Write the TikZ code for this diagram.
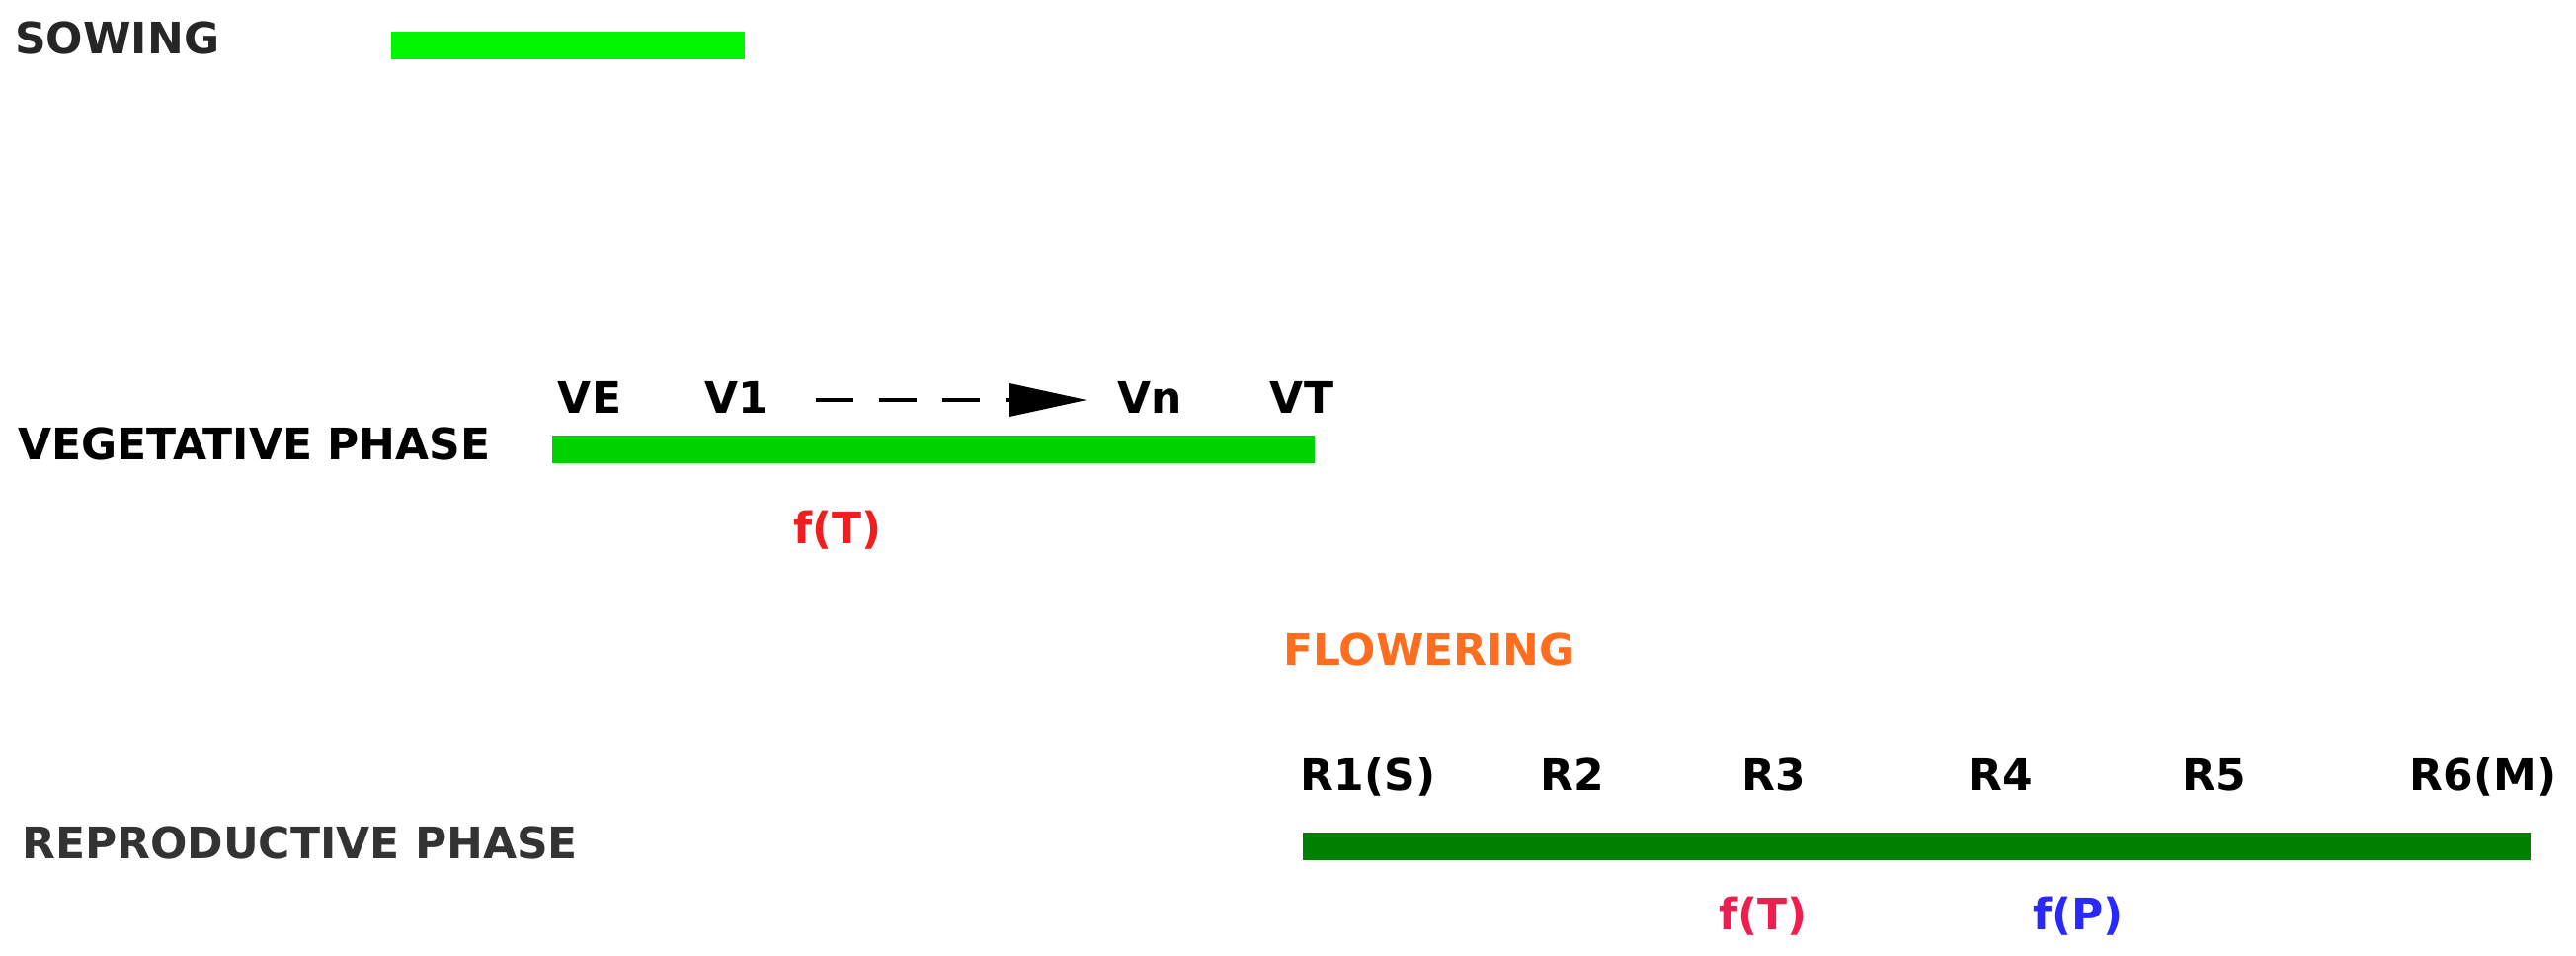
\documentclass[tikz,border=0pt]{standalone}
\usepackage{fontspec}
\setmainfont{DejaVu Sans}
\begin{document}
\begin{tikzpicture}[x=1pt,y=-1pt,
 lbl/.style={font=\bfseries\fontsize{44}{44}\selectfont, inner sep=0pt},
 stage/.style={lbl, anchor=base},
 bar/.style={inner sep=0pt, minimum height=28pt, anchor=north west}]
\useasboundingbox (0,0) rectangle (2608,967);
\node[lbl, anchor=west, text=black!85] (sow) at (15,38) {SOWING};
\node[bar, fill={rgb,255:red,0;green,245;blue,0}, minimum width=358pt] (sbar) at (396,32) {};
\node[lbl, anchor=west] (veg) at (18,449) {VEGETATIVE PHASE};
\node[bar, fill={rgb,255:red,0;green,210;blue,0}, minimum width=772pt] (vbar) at (559,441) {};
\node[stage] (ve) at (597,418) {VE};
\node[stage] (v1) at (746,418) {V1};
\node[stage] (vn) at (1164,418) {Vn};
\node[stage] (vt) at (1318,418) {VT};
\coordinate (ds) at (826,405);
\coordinate (de) at (1030,405);
\draw[line width=4pt, dash pattern=on 38pt off 26pt] (ds) -- (de);
\fill (1022,388) -- (1100,405) -- (1022,422) -- cycle;
\node[stage, text={rgb,255:red,240;green,30;blue,30}] (ft1) at (848,550) {f(T)};
\node[stage, text={rgb,255:red,255;green,110;blue,30}] (flw) at (1447,673) {FLOWERING};
\node[stage] (r1) at (1385,800) {R1(S)};
\node[stage] (r2) at (1592,800) {R2};
\node[stage] (r3) at (1796,800) {R3};
\node[stage] (r4) at (2026,800) {R4};
\node[stage] (r5) at (2242,800) {R5};
\node[stage] (r6) at (2514,800) {R6(M)};
\node[lbl, anchor=west, text=black!80] (rep) at (22,853) {REPRODUCTIVE PHASE};
\node[bar, fill={rgb,255:red,0;green,128;blue,0}, minimum width=1243pt] (rbar) at (1319,843) {};
\node[stage, text={rgb,255:red,240;green,30;blue,80}] (ft2) at (1785,941) {f(T)};
\node[stage, text={rgb,255:red,40;green,40;blue,255}] (fp) at (2104,941) {f(P)};
\end{tikzpicture}
\end{document}
